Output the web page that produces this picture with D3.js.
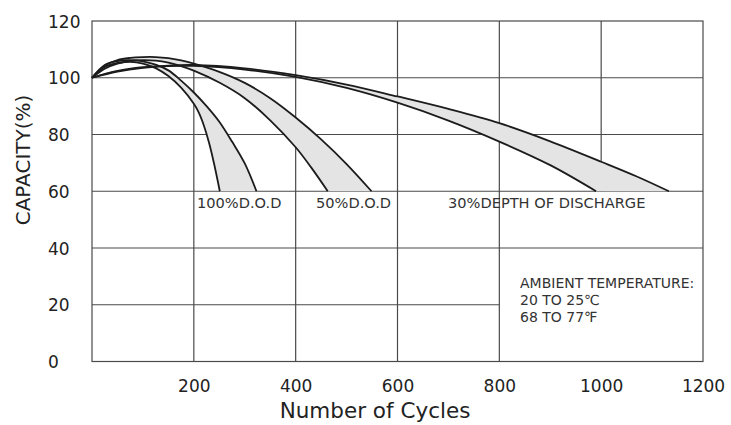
<!DOCTYPE html>
<html>
<head>
<meta charset="utf-8">
<script src="https://cdn.jsdelivr.net/npm/d3@7"></script>
<style>
  html, body { margin: 0; padding: 0; background: #fff; }
  svg { display: block; }
</style>
</head>
<body>
<svg id="chart" width="731" height="425"></svg>
<script>
// ---- data ----
const xTicks = [200, 400, 600, 800, 1000, 1200];
const yTicks = [0, 20, 40, 60, 80, 100, 120];

// 100% D.O.D band: inner (left) and outer (right) edges  [cycles, capacity %]
const dod100Inner = [[0,100],[25,103.8],[50,105.2],[75,105.6],[100,105],[125,103.4],[150,100.6],[175,96.5],[200,90.8],[210,87.6],[220,83],[230,77],[240,69.5],[251,60]];
const dod100Outer = [[0,100],[25,104.5],[50,105.9],[75,106.2],[100,105.8],[125,104.6],[150,102.6],[175,99],[200,94.8],[225,90],[250,84.5],[275,77.5],[300,69.8],[323,60]];

// 50% D.O.D band
const dod50Inner = [[0,100],[25,103.2],[50,105],[75,105.9],[100,106.2],[125,106],[150,105.3],[175,104.1],[200,102.5],[250,98.3],[300,92.8],[350,85],[400,75.5],[430,68.5],[463,60]];
const dod50Outer = [[0,100],[25,104.2],[50,106.2],[75,107],[100,107.3],[125,107.3],[150,106.9],[175,106.1],[200,105],[250,102.1],[300,98.2],[350,92.8],[400,86],[450,78.3],[500,69.6],[549,60]];

// 30% depth of discharge band
const dod30Inner = [[0,100],[50,102.2],[100,103.5],[150,104.1],[200,104.2],[300,102.9],[400,100.3],[500,96.4],[600,91.2],[700,84.9],[800,77.5],[900,69.2],[990,60]];
const dod30Outer = [[0,100],[50,102.4],[100,103.7],[150,104.3],[200,104.5],[300,103.3],[400,100.9],[500,97.6],[600,93.4],[700,89],[800,84],[900,77.6],[1000,70.4],[1070,65.2],[1133,60]];

const bands = [
  {inner: dod100Inner, outer: dod100Outer},
  {inner: dod50Inner, outer: dod50Outer},
  {inner: dod30Inner, outer: dod30Outer}
];
const bandLabels = ["100%D.O.D", "50%D.O.D", "30%DEPTH OF DISCHARGE"];
const bandLabelX = [197, 316, 448];
const noteLines = ["AMBIENT TEMPERATURE:", "20 TO 25\u2103", "68 TO 77\u2109"];

// ---- layout ----
const svg = d3.select("#chart");
const x = d3.scaleLinear().domain([0, 1200]).range([92, 703]);
const y = d3.scaleLinear().domain([0, 120]).range([361.5, 21]);
const FONT = "'DejaVu Sans', Verdana, sans-serif";
const gridColor = "#4a4a4a";

// grid
const g = svg.append("g").attr("stroke", gridColor).attr("stroke-width", 1.2);
[40, 60, 80, 100].forEach(v => {
  g.append("line").attr("x1", x(0)).attr("x2", x(1200)).attr("y1", y(v)).attr("y2", y(v));
});
g.append("line").attr("x1", x(0)).attr("x2", x(800)).attr("y1", y(20)).attr("y2", y(20));
[200, 400, 600, 800].forEach(v => {
  g.append("line").attr("x1", x(v)).attr("x2", x(v)).attr("y1", y(0)).attr("y2", y(120));
});
g.append("line").attr("x1", x(1000)).attr("x2", x(1000)).attr("y1", y(60)).attr("y2", y(120));
g.append("rect").attr("x", x(0)).attr("y", y(120)).attr("width", x(1200) - x(0)).attr("height", y(0) - y(120))
  .attr("fill", "none");

// bands
const line = d3.line().x(d => x(d[0])).y(d => y(d[1])).curve(d3.curveCatmullRom.alpha(0.5));
bands.forEach(b => {
  svg.append("path")
    .attr("d", line(b.outer) + "L" + line(b.inner.slice().reverse()).slice(1) + "Z")
    .attr("fill", "#e4e4e4").attr("stroke", "none");
});
bands.forEach(b => {
  [b.inner, b.outer].forEach(s => {
    svg.append("path").attr("d", line(s)).attr("fill", "none")
      .attr("stroke", "#1c1c1c").attr("stroke-width", 1.8);
  });
});

// axes tick labels
const xAxis = d3.axisBottom(x).tickValues(xTicks).tickSize(0).tickPadding(0).tickFormat(d3.format("d"));
const xa = svg.append("g").attr("transform", `translate(0, 380)`).call(xAxis);
xa.select(".domain").remove();
xa.selectAll("text").attr("font-family", FONT).attr("font-size", 17).attr("fill", "#222").attr("dy", "0.71em");

const yAxis = d3.axisLeft(y).tickValues(yTicks).tickSize(0).tickPadding(0).tickFormat(d3.format("d"));
const ya = svg.append("g").attr("transform", `translate(48, 0)`).call(yAxis);
ya.select(".domain").remove();
ya.selectAll("text").attr("font-family", FONT).attr("font-size", 17).attr("fill", "#222")
  .attr("text-anchor", "start").attr("x", 0).attr("dy", "0.36em");

// axis titles
svg.append("text").attr("x", 375).attr("y", 418).attr("text-anchor", "middle")
  .attr("font-family", FONT).attr("font-size", 21.5).attr("fill", "#222").text("Number of Cycles");
svg.append("text").attr("transform", "translate(30,160) rotate(-90)").attr("text-anchor", "middle")
  .attr("font-family", FONT).attr("font-size", 20).attr("fill", "#222").text("CAPACITY(%)");

// band labels
bandLabels.forEach((t, i) => {
  svg.append("text").attr("x", bandLabelX[i]).attr("y", 208)
    .attr("font-family", FONT).attr("font-size", 14.6).attr("fill", "#333").text(t);
});

// ambient note
noteLines.forEach((t, i) => {
  svg.append("text").attr("x", 520).attr("y", 288 + i * 17)
    .attr("font-family", FONT).attr("font-size", 14).attr("fill", "#333").text(t);
});
</script>
</body>
</html>
